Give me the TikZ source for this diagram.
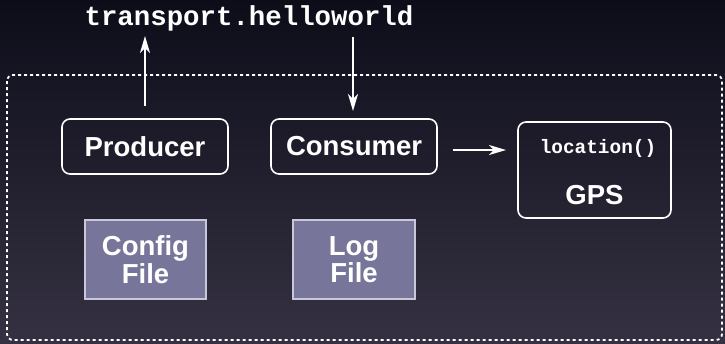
\documentclass[tikz,border=0pt]{standalone}
\usepackage{fontspec}
\setmainfont{Liberation Sans}
\newfontfamily\monob{Liberation Mono}
\usetikzlibrary{arrows.meta}
\definecolor{bgtop}{HTML}{0D0D1A}
\definecolor{bgbot}{HTML}{353142}
\definecolor{filebox}{HTML}{77769A}
\definecolor{fileedge}{HTML}{C8C8D8}
\tikzset{
  compbox/.style={draw=white, line width=1.6pt, rounded corners=8pt, text=white,
    font=\fontsize{27.5}{29}\selectfont\bfseries, inner sep=0pt},
  filenode/.style={draw=fileedge, fill=filebox, line width=1.4pt, text=white,
    font=\fontsize{27.5}{27.5}\selectfont\bfseries, align=center, inner sep=0pt},
  arr/.style={draw=white, line width=2pt, -{Stealth[length=17pt,width=10pt,inset=5pt]}},
  container/.style={draw=white, line width=1.8pt, dash pattern=on 3pt off 3pt, rounded corners=6pt},
}
\begin{document}
\begin{tikzpicture}[x=1pt,y=-1pt]
\shade[top color=bgtop, bottom color=bgbot] (0,0) rectangle (725,343);
\useasboundingbox (0,0) rectangle (725,343);
\draw[container] (7,75) rectangle (722,340);
\node[text=white, font=\monob\fontsize{27.4}{29}\selectfont\bfseries] (topic) at (249,18) {transport.helloworld};
\node[compbox, minimum width=166pt, minimum height=55pt] (prod) at (145,146.5) {Producer};
\node[compbox, minimum width=166pt, minimum height=55pt] (cons) at (354,146.5) {Consumer};
\node[compbox, minimum width=153pt, minimum height=96pt] (gps) at (594.5,170) {};
\node[text=white, font=\monob\fontsize{19.4}{21}\selectfont\bfseries] (loc) at (598,148) {location()};
\node[text=white, font=\fontsize{27.5}{29}\selectfont\bfseries] (gpslbl) at (594.5,195) {GPS};
\node[filenode, minimum width=121pt, minimum height=79pt] (config) at (145.5,259.5) {Config\\File};
\node[filenode, minimum width=122pt, minimum height=79pt] (log) at (354,259.5) {Log\\File};
\coordinate (upT) at (145,36);
\coordinate (dnT) at (353,37);
\coordinate (dnB) at (353,111);
\coordinate (rtA) at (453,150);
\coordinate (rtB) at (506,150);
\draw[arr] ([yshift=12pt]prod.north) -- (upT);
\draw[arr] (dnT) -- (dnB);
\draw[arr] (rtA) -- (rtB);
\end{tikzpicture}
\end{document}
